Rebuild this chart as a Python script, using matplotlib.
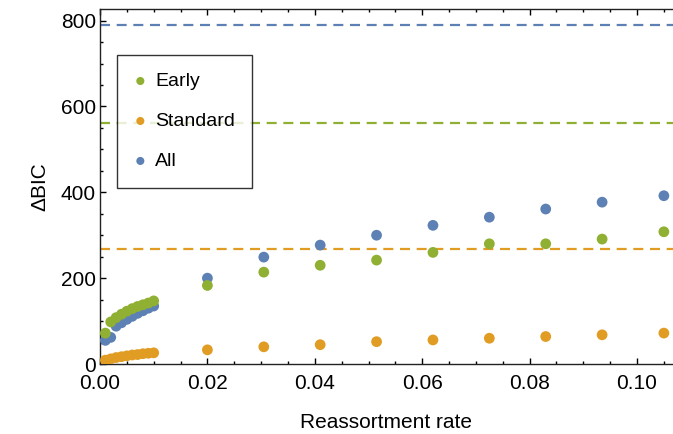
import matplotlib
matplotlib.use("Agg")
import matplotlib.pyplot as plt
from matplotlib.ticker import MultipleLocator, FormatStrFormatter

plt.rcParams['font.family'] = ['Liberation Sans', 'DejaVu Sans']

# ---- data ----
rate_fine = [0.001, 0.002, 0.003, 0.004, 0.005, 0.006, 0.007, 0.008, 0.009, 0.010]
rate_coarse = [0.020, 0.0305, 0.041, 0.0515, 0.062, 0.0725, 0.083, 0.0935, 0.105]

early_fine = [72, 98, 108, 116, 123, 129, 134, 138, 142, 147]
early_coarse = [183, 214, 230, 242, 260, 280, 280, 291, 308]

standard_fine = [9, 12, 15, 17, 19, 21, 22, 24, 25, 26]
standard_coarse = [33, 40, 45, 52, 56, 60, 64, 68, 72]

all_fine = [55, 62, 88, 96, 104, 111, 118, 124, 130, 135]
all_coarse = [200, 249, 277, 300, 323, 342, 361, 377, 392]

thresholds = {"All": 790, "Early": 561, "Standard": 269}

series = ["Early", "Standard", "All"]
colors = {"Early": "#8FB032", "Standard": "#E19C24", "All": "#5E81B5"}
values = {
    "Early": early_fine + early_coarse,
    "Standard": standard_fine + standard_coarse,
    "All": all_fine + all_coarse,
}
rates = rate_fine + rate_coarse

# ---- figure ----
fig = plt.figure(figsize=(6.73, 4.34), dpi=100)
ax = fig.add_axes([100 / 673, 1 - 364 / 434, 1 - 100 / 673, (364 - 9) / 434])

for name in series:
    ax.axhline(thresholds[name], color=colors[name], lw=1.6, ls=(0, (4.5, 3)), zorder=1)

handles = {}
for name, z in [("All", 3), ("Standard", 3), ("Early", 4)]:
    handles[name] = ax.scatter(rates, values[name], s=60, color=colors[name],
                               edgecolors='none', zorder=z, label=name)

ax.set_xlim(0, 0.1067)
ax.set_ylim(0, 827)
ax.xaxis.set_major_locator(MultipleLocator(0.02))
ax.xaxis.set_minor_locator(MultipleLocator(0.005))
ax.xaxis.set_major_formatter(FormatStrFormatter('%.2f'))
ax.yaxis.set_major_locator(MultipleLocator(200))
ax.yaxis.set_minor_locator(MultipleLocator(50))

ax.tick_params(which='both', direction='in', top=True, right=False,
               labelsize=15, colors='black', width=1)
ax.tick_params(axis='y', which='both', pad=3)
ax.tick_params(axis='x', which='both', pad=7.5)
ax.tick_params(which='major', length=4.5)
ax.tick_params(which='minor', length=2.5)
for s in ['left', 'bottom', 'top']:
    ax.spines[s].set_linewidth(1.0)
    ax.spines[s].set_color('#222222')
ax.spines['right'].set_visible(False)

ax.set_xlabel("Reassortment rate", fontsize=15, labelpad=14)
ax.set_ylabel("\u0394BIC", fontsize=15, labelpad=8)

leg = ax.legend([handles[n] for n in series], series, loc='upper left',
                bbox_to_anchor=((117 - 100) / 573, (364 - 55) / 355),
                fontsize=14, frameon=True, fancybox=False, borderpad=0.9,
                labelspacing=1.15, handletextpad=0.45, markerscale=0.75,
                handlelength=0.6, borderaxespad=0)
leg.get_frame().set_edgecolor('black')
leg.get_frame().set_linewidth(1.0)

fig.savefig("out.png", dpi=100)
